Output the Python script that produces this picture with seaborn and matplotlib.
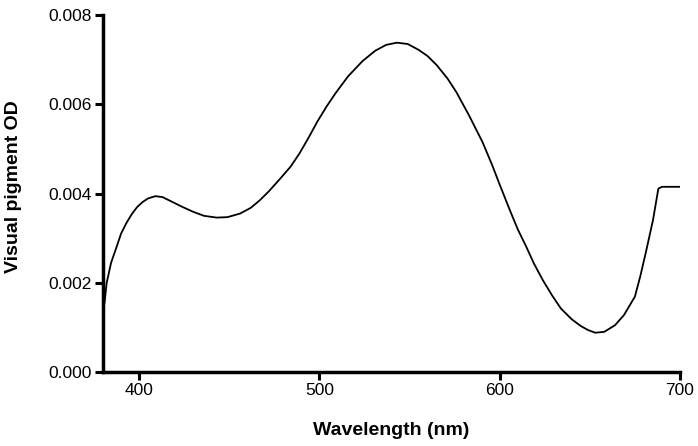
import numpy as np
import pandas as pd
import matplotlib
matplotlib.use("Agg")
import matplotlib.pyplot as plt
import seaborn as sns

# values
wavelength = [380, 381, 382, 384.5, 387.6, 390, 393, 396, 399, 402, 405, 409, 413, 418,
              424, 430, 436, 443, 449, 456, 462, 467, 472, 478, 484, 489, 494, 499,
              504, 509, 516, 524, 531, 537, 543, 549, 555, 560, 565, 571, 576, 583,
              590.5, 596, 600, 605.5, 610, 614.7, 619, 623.9, 629, 634, 640, 645, 649,
              653, 658, 664, 669, 675, 678, 681, 685, 688, 690, 700]
pigment_od = [0.00135, 0.00160, 0.00199, 0.00245, 0.00281, 0.00310, 0.00334, 0.00354,
              0.00370, 0.00381, 0.00389, 0.00394, 0.00392, 0.00382, 0.00370, 0.00359,
              0.00350, 0.00346, 0.00347, 0.00355, 0.00368, 0.00385, 0.00405, 0.00432,
              0.00460, 0.00490, 0.00525, 0.00562, 0.00595, 0.00625, 0.00663, 0.00697,
              0.00720, 0.00733, 0.00738, 0.00735, 0.00722, 0.00708, 0.00688, 0.00658,
              0.00627, 0.00575, 0.00515, 0.00462, 0.00420, 0.00364, 0.00320, 0.00281,
              0.00243, 0.00206, 0.00172, 0.00142, 0.00118, 0.00103, 0.00094, 0.00088,
              0.00090, 0.00105, 0.00128, 0.00169, 0.00215, 0.00267, 0.00340, 0.00411,
              0.00415, 0.00415]

x_ticks = [400, 500, 600, 700]
y_ticks = [0.000, 0.002, 0.004, 0.006, 0.008]

df = pd.DataFrame({"wavelength": wavelength, "od": pigment_od})

sns.set_style("ticks")
plt.rcParams['font.family'] = ['Liberation Sans', 'DejaVu Sans']
plt.rcParams['text.color'] = 'black'
plt.rcParams['axes.labelcolor'] = 'black'
plt.rcParams['xtick.color'] = 'black'
plt.rcParams['ytick.color'] = 'black'

fig = plt.figure(figsize=(6.98, 4.46), dpi=100)
ax = fig.add_axes([103 / 698, (446 - 372) / 446, (680 - 103) / 698, (372 - 15) / 446])

sns.lineplot(data=df, x="wavelength", y="od", color="black", linewidth=1.3, ax=ax)

ax.set_xlim(380, 700)
ax.set_ylim(0, 0.008)
ax.set_xticks(x_ticks)
ax.set_yticks(y_ticks)
ax.set_yticklabels([f"{v:.3f}" for v in y_ticks])
ax.tick_params(axis="both", direction="out", length=6, width=2.2, labelsize=12.5,
               colors="black", pad=2)

for side in ["top", "right"]:
    ax.spines[side].set_visible(False)
for side in ["left", "bottom"]:
    ax.spines[side].set_linewidth(2.5)
    ax.spines[side].set_color("black")

ax.set_xlabel("Wavelength (nm)", fontsize=14, fontweight="bold", labelpad=17)
ax.set_ylabel("Visual pigment OD", fontsize=14, fontweight="bold")
ax.yaxis.set_label_coords(-81 / 577, 0.52)

fig.savefig("out.png", dpi=100)
